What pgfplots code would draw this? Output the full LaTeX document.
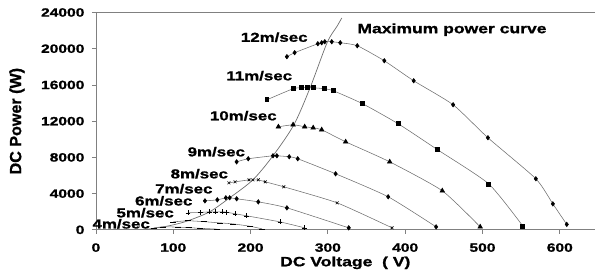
\documentclass[border=0pt]{standalone}
\usepackage{fontspec}
\setmainfont{Liberation Sans}[FakeStretch=1.3, BoldFeatures={FakeBold=1.2}]
\usepackage{pgfplots}
\pgfplotsset{compat=1.18}
\definecolor{ln}{RGB}{110,110,110}
\definecolor{ax}{RGB}{128,128,128}
\begin{document}
\begin{tikzpicture}[x=1pt,y=1pt]
\begin{axis}[
  at={(0,0)}, anchor=south west,
  scale only axis, width=499pt, height=217.5pt,
  xmin=0, xmax=645, ymin=0, ymax=24000,
  axis lines*=left,
  axis line style={ax, line width=0.8pt},
  tick style={ax, line width=0.8pt},
  tick align=outside, major tick length=4pt,
  xtick={0,100,...,600}, ytick={0,4000,...,24000},
  scaled y ticks=false,
  /pgf/number format/assume math mode=true,
  /pgf/number format/1000 sep={},
  tick label style={font=\fontsize{12}{14}\selectfont\bfseries},
  xticklabel style={yshift=-6pt},
  yticklabel style={xshift=-4pt},
  xlabel={DC Voltage\ \ ( V)},
  ylabel={\scalebox{1}[1.3]{\fontsize{12.4}{14}\selectfont\bfseries DC Power (W)}},
  every axis x label/.style={at={(axis description cs:0.5,0)}, yshift=-33pt, anchor=center, font=\fontsize{13.5}{15}\selectfont\bfseries},
  every axis y label/.style={at={(axis description cs:0,0.5)}, xshift=-79pt, rotate=90, anchor=center},
  clip=false,
  curve/.style={ln, line width=0.55pt, smooth, tension=0.35, mark options={solid, fill=black, draw=black, line width=0.6pt}},
]
% 12 m/s
\addplot[curve, mark=diamond*, mark size=2.2pt] coordinates {(247,19120)(257,19560)(287,20550)(292,20660)(296,20770)(305,20770)(316,20660)(338,20330)(373,18670)(411,16460)(462,13810)(507,10170)(569,5640)(591,2870)(609,600)};
% 11 m/s
\addplot[curve, mark=square*, mark size=2pt] coordinates {(221,14360)(255,15580)(266,15690)(273,15690)(281,15690)(295,15580)(307,15360)(345,13920)(391,11710)(442,8840)(508,5080)(552,440)};
% 10 m/s
\addplot[curve, mark=triangle*, mark size=2.6pt] coordinates {(236,11380)(255,11600)(270,11380)(281,11270)(292,11050)(323,9720)(380,7510)(448,4310)(497,330)};
% 9 m/s
\addplot[curve, mark=diamond*, mark size=2.2pt] coordinates {(182,7510)(197,7850)(229,8180)(234,8180)(250,8070)(261,7850)(310,6190)(378,3650)(440,330)};
% 8 m/s
\addplot[curve, mark=x, mark size=2pt] coordinates {(172,5190)(180,5300)(198,5520)(203,5520)(210,5520)(219,5300)(243,4750)(312,2980)(383,220)};
% 7 m/s
\addplot[curve, mark=diamond*, mark size=2.2pt] coordinates {(141,3200)(157,3310)(168,3540)(173,3540)(182,3430)(210,3090)(247,2430)(327,220)};
% 6 m/s
\addplot[curve, mark=+, mark size=2.4pt] coordinates {(119,1880)(135,1920)(147,1990)(155,1990)(163,1990)(169,1950)(180,1770)(195,1550)(238,880)(270,220)};
% 5 m/s
\addplot[curve, mark=-, mark size=3pt] coordinates {(100,880)(119,1000)(140,900)(160,770)(177,660)(199,400)(215,110)};
% 4 m/s
\addplot[curve, mark=-, mark size=3pt] coordinates {(75,220)(87,330)(106,300)(120,240)(135,170)(157,80)};
% max power curve
\addplot[ln, line width=0.7pt, smooth, tension=0.5, no marks] coordinates {(65,50)(87,330)(100,550)(119,1000)(147,1990)(173,3540)(203,5520)(229,8180)(256,11600)(277,15690)(299,20660)(312,22500)(318,23400)};
% labels
\begin{scope}[every node/.style={inner sep=0pt, font=\fontsize{13}{15}\selectfont\bfseries}]
\node[anchor=east] at (axis cs:274,21270) {12m/sec};
\node[anchor=east] at (axis cs:254,17020) {11m/sec};
\node[anchor=east] at (axis cs:234,12600) {10m/sec};
\node[anchor=east] at (axis cs:193,8620) {9m/sec};
\node[anchor=east] at (axis cs:171,6190) {8m/sec};
\node[anchor=east] at (axis cs:151,4530) {7m/sec};
\node[anchor=east] at (axis cs:125,3200) {6m/sec};
\node[anchor=east] at (axis cs:101,1880) {5m/sec};
\node[anchor=east] at (axis cs:70,660) {4m/sec};
\node[anchor=west, font=\fontsize{13.5}{15}\selectfont\bfseries] at (axis cs:338,22100) {Maximum power curve};
\end{scope}
\draw[ax, line width=0.8pt] (rel axis cs:0,1) -- (rel axis cs:1,1);
\end{axis}
\path[use as bounding box] (-96,-45) rectangle (499,230);
\end{tikzpicture}
\end{document}
